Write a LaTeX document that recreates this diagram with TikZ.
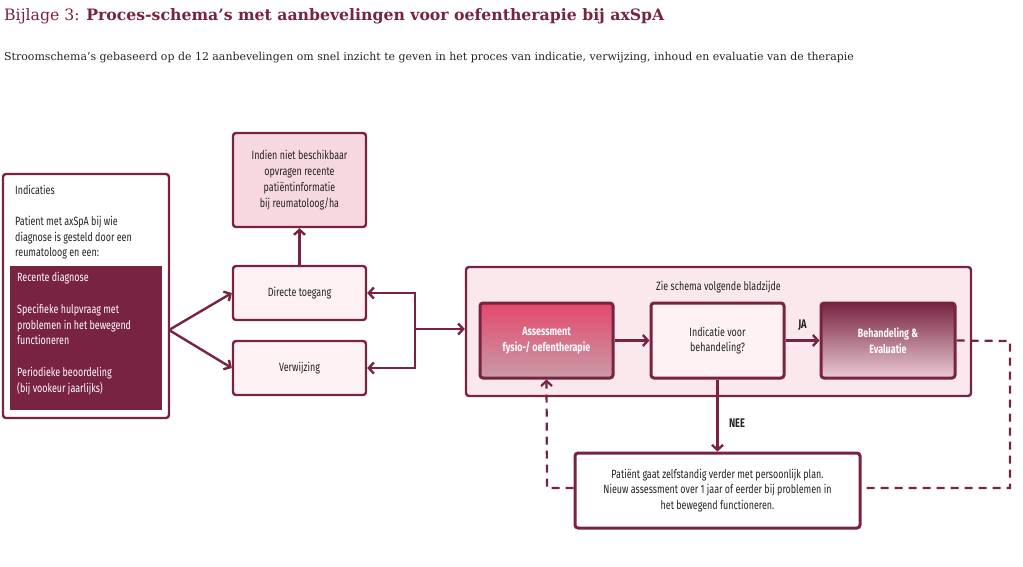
\documentclass[tikz,border=0pt]{standalone}
\usepackage{fontspec}
\setmainfont{DejaVu Serif}
\newfontfamily\cond[FakeStretch=0.745]{Fira Sans}
\usetikzlibrary{arrows.meta}
\definecolor{maroon}{HTML}{782341}
\definecolor{pinkA}{HTML}{F8D8E0}
\definecolor{pinkB}{HTML}{FDF1F4}
\definecolor{pinkBig}{HTML}{FBE8ED}
\definecolor{txt}{HTML}{222222}
\definecolor{assTop}{HTML}{E3486B}
\definecolor{assBot}{HTML}{C99BA8}
\definecolor{behBot}{HTML}{EBCBD4}
\tikzset{
  box/.style={draw=maroon, line width=2.4pt, rounded corners=3pt, inner sep=0pt, align=center, text=txt, font=\cond\fontsize{12}{15.8}\selectfont},
  thickbox/.style={box, line width=3pt},
  conn/.style={draw=maroon, line width=2.4pt, -{Straight Barb[length=5pt,width=11pt,line width=2.4pt]}},
  dashline/.style={draw=maroon, line width=2.2pt, dash pattern=on 8pt off 6pt},
  lbl/.style={inner sep=0pt, text=txt, font=\cond\fontsize{12}{15.5}\selectfont, align=left, anchor=west},
}
\begin{document}
\begin{tikzpicture}[x=1pt,y=-1pt]
\useasboundingbox (0,0) rectangle (1023,566);
% titles
\node[anchor=base west, inner sep=0pt, text=maroon, font=\fontsize{15.7}{18}\selectfont] (title) at (4,20) {Bijlage 3: \textbf{Proces-schema’s met aanbevelingen voor oefentherapie bij axSpA}};
\node[anchor=base west, inner sep=0pt, text=txt, font=\fontsize{10.95}{13}\selectfont] (sub) at (4,60) {Stroomschema’s gebaseerd op de 12 aanbevelingen om snel inzicht te geven in het proces van indicatie, verwijzing, inhoud en evaluatie van de therapie};

% Indicaties box
\node[box, fill=white, minimum width=166pt, minimum height=244pt] (ind) at (86,296) {};
\node[fill=maroon, inner sep=0pt, minimum width=152pt, minimum height=144pt] (inddark) at (86,338) {};
\node[lbl] (indt) at (15,190) {Indicaties};
\node[lbl, anchor=north west] (indp) at (15,216) {Patient met axSpA bij wie\\diagnose is gesteld door een\\reumatoloog en een:};
\node[lbl, text=white, anchor=north west] (indr) at (17,272) {Recente diagnose};
\node[lbl, text=white, anchor=north west] (inds) at (17,304) {Specifieke hulpvraag met\\problemen in het bewegend\\functioneren};
\node[lbl, text=white, anchor=north west] (indq) at (17,367) {Periodieke beoordeling\\(bij vookeur jaarlijks)};

% middle column
\node[box, fill=pinkA, minimum width=133pt, minimum height=94pt] (info) at (299.5,180) {Indien niet beschikbaar\\opvragen recente\\patiëntinformatie\\bij reumatoloog/ha};
\node[box, fill=pinkB, minimum width=133pt, minimum height=54pt] (dir) at (299.5,293) {Directe toegang};
\node[box, fill=pinkB, minimum width=133pt, minimum height=54pt] (ver) at (299.5,368) {Verwijzing};

% big box
\node[box, fill=pinkBig, minimum width=505pt, minimum height=129pt] (big) at (718.5,331.5) {};
\node[lbl, anchor=center] (zie) at (718.5,287) {Zie schema volgende bladzijde};
\node[thickbox, top color=assTop, bottom color=assBot, text=white, minimum width=133pt, minimum height=75pt, font=\cond\bfseries\fontsize{12}{15.8}\selectfont] (ass) at (546.5,340.5) {Assessment\\fysio-/ oefentherapie};
\node[thickbox, fill=pinkB, minimum width=133pt, minimum height=75pt] (indic) at (717.5,340.5) {Indicatie voor\\behandeling?};
\node[thickbox, top color=maroon, bottom color=behBot, text=white, minimum width=134pt, minimum height=75pt, font=\cond\bfseries\fontsize{12}{15.8}\selectfont] (beh) at (888,340.5) {Behandeling \&\\Evaluatie};

% patient box
\node[thickbox, fill=white, minimum width=285pt, minimum height=75pt] (pat) at (717.5,490.5) {Patiënt gaat zelfstandig verder met persoonlijk plan.\\Nieuw assessment over 1 jaar of eerder bij problemen in\\het bewegend functioneren.};

% connectors
\coordinate (split) at (169,330);
\draw[conn] (split) -- (dir.west);
\draw[conn] (split) -- (ver.west);
\draw[conn] (dir.north) -- (info.south);
\coordinate (brk) at (415,329);
\draw[conn] (brk) |- (dir.east);
\draw[conn] (brk) |- (ver.east);
\draw[conn] (brk) -- (brk -| big.west);
\draw[conn] (ass.east) -- (indic.west);
\draw[conn] (indic.east) -- node[above=5pt, font=\cond\bfseries\fontsize{12.5}{14}\selectfont, text=txt] (ja) {JA} (beh.west);
\draw[conn] (indic.south) -- node[pos=0.6, right=7pt, font=\cond\bfseries\fontsize{12.5}{14}\selectfont, text=txt] (nee) {NEE} (pat.north);
\coordinate (dl) at (547,488);
\draw[dashline, -{Straight Barb[length=5pt,width=11pt,line width=2.2pt]}] (pat.west |- dl) -- (dl) -- (ass.south);
\coordinate (dr) at (1010,341);
\draw[dashline] (beh.east) -- (dr) |- (pat.east |- dl);
\end{tikzpicture}
\end{document}
